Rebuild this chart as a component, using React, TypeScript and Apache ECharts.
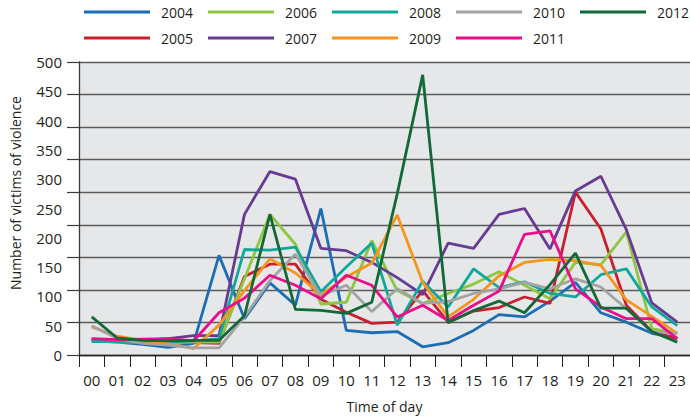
import React, { useEffect, useRef } from "react";
import * as echarts from "echarts";

const hours = ["00","01","02","03","04","05","06","07","08","09","10","11","12","13","14","15","16","17","18","19","20","21","22","23"];
const yearNames = ["2004","2005","2006","2007","2008","2009","2010","2011","2012"];
const yTicks = [0, 50, 100, 150, 200, 250, 300, 350, 400, 450, 500];

const v2004 = [24,22,18,13,20,170,62,123,85,250,42,38,40,14,21,42,69,65,92,124,72,56,37,29];
const v2005 = [27,25,23,22,21,20,134,155,155,95,73,54,56,110,56,75,81,99,88,278,215,85,40,28];
const v2006 = [25,22,22,21,22,22,130,240,189,87,90,195,110,88,105,121,142,119,96,158,154,210,45,37];
const v2007 = [25,24,25,28,33,33,240,313,300,182,178,158,132,103,191,182,240,250,181,280,305,214,89,56];
const v2008 = [23,23,22,22,24,28,180,179,184,108,150,191,51,126,82,147,115,125,105,99,137,147,82,50];
const v2009 = [48,32,25,20,11,51,110,164,140,103,133,157,239,124,65,95,135,158,163,161,153,94,66,37];
const v2010 = [50,28,20,17,12,12,65,127,172,101,119,74,113,88,91,105,113,124,113,130,116,79,40,37];
const v2011 = [28,26,27,28,24,72,97,136,119,96,136,119,65,85,59,85,109,206,212,113,82,62,62,28];
const v2012 = [65,29,25,24,25,25,67,240,78,76,71,90,275,478,55,76,92,72,120,174,80,80,40,22];

const seriesValues = [v2004, v2005, v2006, v2007, v2008, v2009, v2010, v2011, v2012];
const seriesColors = ["#1b6db5", "#c8202f", "#8dc63f", "#673a94", "#11a89c", "#f7941d", "#a3a3a3", "#ec0d8c", "#136838"];

const FONT = "'Open Sans', 'Noto Sans', sans-serif";
const TEXT = "#231f20";

export default function App() {
  const ref = useRef<HTMLDivElement>(null);
  useEffect(() => {
    document.body.style.margin = "0";
    if (!ref.current) return;
    const chart = echarts.init(ref.current, null, { renderer: "svg" });
    const legends = yearNames.map((name, i) => ({
      data: [name],
      left: 84 + Math.floor(i / 2) * 124,
      top: i % 2 === 0 ? 5 : 31,
      icon: "rect",
      itemWidth: 66,
      itemHeight: 3,
      itemGap: 0,
      padding: 0,
      textStyle: { fontFamily: FONT, fontSize: 14, color: TEXT, padding: [0, 0, 0, 6] },
    }));
    chart.setOption({
      animation: false,
      textStyle: { fontFamily: FONT },
      legend: legends,
      graphic: [
        {
          type: "text",
          x: 15,
          y: 193,
          rotation: Math.PI / 2,
          style: {
            text: "Number of victims of violence",
            fontFamily: FONT,
            fontSize: 14,
            fill: TEXT,
            align: "center",
            verticalAlign: "middle",
          },
        },
      ],
      grid: {
        left: 79,
        right: 0,
        top: 62,
        bottom: 61,
        show: true,
        backgroundColor: "#e6e7e8",
        borderWidth: 0,
      },
      xAxis: {
        type: "category",
        data: hours,
        boundaryGap: true,
        name: "Time of day",
        nameLocation: "middle",
        nameGap: 44,
        nameTextStyle: { fontFamily: FONT, fontSize: 14, color: TEXT },
        axisLine: { show: true, lineStyle: { color: "#231f20", width: 1.3 } },
        axisTick: { show: true, length: 12, alignWithLabel: false, lineStyle: { color: "#231f20", width: 1 } },
        axisLabel: { fontFamily: FONT, fontSize: 15, color: TEXT, margin: 17, interval: 0 },
        splitLine: { show: false },
      },
      yAxis: [
        {
          type: "value",
          min: yTicks[0],
          max: yTicks[yTicks.length - 1],
          interval: 50,
          position: "left",
          axisLine: { show: false },
          axisTick: { show: false },
          axisLabel: { fontFamily: FONT, fontSize: 15, color: TEXT, margin: 17 },
          splitLine: { show: false },
        },
        {
          type: "value",
          min: 0,
          max: 9,
          interval: 1,
          position: "left",
          axisLine: { show: true, lineStyle: { color: "#3a3a3a", width: 1.3 } },
          axisTick: { show: true, inside: false, length: 12, lineStyle: { color: "#3a3a3a", width: 1.2 } },
          axisLabel: { show: false },
          splitLine: { show: true, lineStyle: { color: "#5b5b5b", width: 1.3 } },
        },
      ],
      series: yearNames.map((name, i) => ({
        name,
        type: "line",
        yAxisIndex: 0,
        data: seriesValues[i],
        showSymbol: false,
        symbol: "none",
        lineStyle: { color: seriesColors[i], width: 2.8 },
        itemStyle: { color: seriesColors[i] },
      })),
    });
    return () => chart.dispose();
  }, []);
  return <div ref={ref} style={{ width: 690, height: 418 }} />;
}
